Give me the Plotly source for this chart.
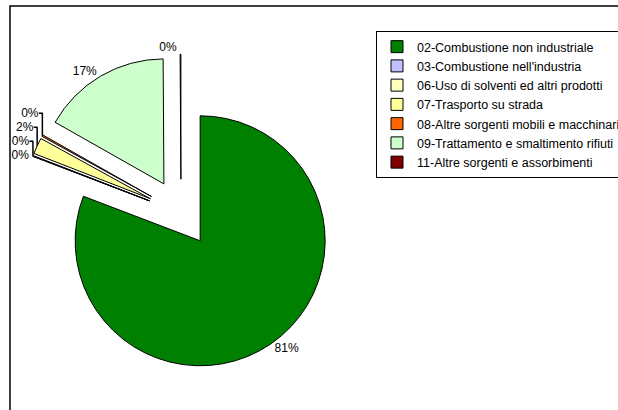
import plotly.graph_objects as go

labels = [
    "02-Combustione non industriale",
    "03-Combustione nell'industria",
    "06-Uso di solventi ed altri prodotti",
    "07-Trasporto su strada",
    "08-Altre sorgenti mobili e macchinari",
    "09-Trattamento e smaltimento rifiuti",
    "11-Altre sorgenti e assorbimenti",
]
values = [80.8, 0.05, 0.05, 2.1, 0.2, 16.7, 0.1]
colors = ["#008000", "#C0C0FF", "#FFFFC0", "#FFFF99", "#FF6600", "#CCFFCC", "#800000"]
pulls = [0.27, 0.27, 0.27, 0.27, 0.27, 0.27, 0.27]

W, H = 618, 410
cx, cy, r = 181, 213, 125
half = r * (1 + max(pulls))
FONT = "Liberation Sans, Arial, sans-serif"

fig = go.Figure(
    go.Pie(
        labels=labels,
        values=values,
        sort=False,
        direction="clockwise",
        rotation=0,
        pull=pulls,
        marker=dict(colors=colors, line=dict(color="#000000", width=1)),
        textposition="outside",
        texttemplate="%{percent:.0%}",
        textfont=dict(family=FONT, size=12, color="#000000"),
        hoverinfo="label+percent",
        domain=dict(
            x=[(cx - half) / W, (cx + half) / W],
            y=[(H - cy - half) / H, (H - cy + half) / H],
        ),
    )
)

fig.add_shape(
    type="rect", xref="paper", yref="paper",
    x0=10 / W, x1=1.05, y0=-0.05, y1=(H - 6) / H,
    line=dict(color="#000000", width=1.5), fillcolor="rgba(0,0,0,0)",
)

fig.update_layout(
    width=W,
    height=H,
    margin=dict(l=0, r=0, t=0, b=0, autoexpand=False),
    paper_bgcolor="#ffffff",
    plot_bgcolor="#ffffff",
    showlegend=True,
    legend=dict(
        x=376 / W, y=(H - 31) / H, xanchor="left", yanchor="top",
        bordercolor="#000000", borderwidth=1,
        font=dict(family=FONT, size=12.5, color="#000000"),
        itemwidth=30,
        tracegroupgap=0,
    ),
    font=dict(family=FONT, size=12, color="#000000"),
)

fig.write_html(
    "out.html",
    config={"displayModeBar": False},
    post_script="document.body.style.margin='0px';",
)
